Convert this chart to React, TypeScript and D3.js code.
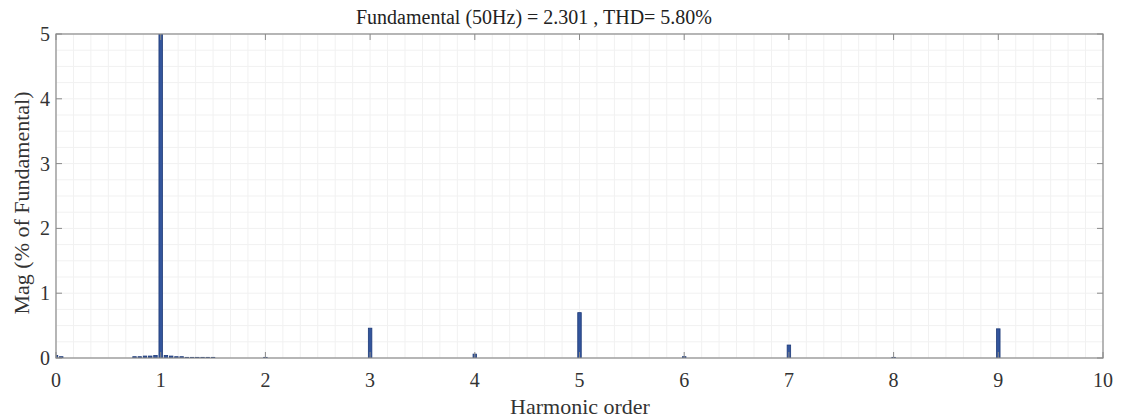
import React from "react";
import * as d3 from "d3";

const orders = [0, 0.05, 0.75, 0.8, 0.85, 0.9, 0.95, 1, 1.05, 1.1, 1.15, 1.2, 1.25, 1.3, 1.35, 1.4, 1.45, 1.5, 2, 3, 4, 5, 6, 7, 8, 9];
const mags = [0.04, 0.02, 0.02, 0.02, 0.03, 0.03, 0.04, 100, 0.04, 0.03, 0.02, 0.02, 0.01, 0.01, 0.01, 0.01, 0.01, 0.01, 0.01, 0.46, 0.06, 0.70, 0.02, 0.20, 0.01, 0.45];
const xTicks = [0, 1, 2, 3, 4, 5, 6, 7, 8, 9, 10];
const yTicks = [0, 1, 2, 3, 4, 5];
const title = "Fundamental (50Hz) = 2.301 , THD= 5.80%";
const xLabel = "Harmonic order";
const yLabel = "Mag (% of Fundamental)";

export default function App() {
  const W = 1124, H = 419;
  const L = 56, R = 1103, T = 34, B = 358;
  const x = d3.scaleLinear().domain([0, 10]).range([L, R]);
  const y = d3.scaleLinear().domain([0, 5]).range([B, T]);
  const minorX = d3.range(0, 10.0001, 1 / 6);
  const minorY = d3.range(0, 5.0001, 0.25);
  const font = "'Liberation Serif', 'Times New Roman', serif";
  const axisCol = "#8a8a8a";
  const barW = 3.5;
  return (
    <svg width={W} height={H} style={{ position: "absolute", left: 0, top: 0, background: "#fff" }}>
      <defs>
        <clipPath id="plot"><rect x={L} y={T} width={R - L} height={B - T} /></clipPath>
      </defs>
      <rect x={0} y={0} width={W} height={H} fill="#fff" />
      {minorX.map((v, i) => (
        <line key={"gx" + i} x1={x(v)} x2={x(v)} y1={T} y2={B} stroke="#f1f1f1" strokeWidth={1} />
      ))}
      {minorY.map((v, i) => (
        <line key={"gy" + i} x1={L} x2={R} y1={y(v)} y2={y(v)} stroke="#f1f1f1" strokeWidth={1} />
      ))}
      <g clipPath="url(#plot)">
        {orders.map((o, i) => (
          <rect key={"b" + i} x={x(o) - barW / 2} width={barW} y={y(Math.min(mags[i], 6))} height={B - y(Math.min(mags[i], 6))}
            fill="#33559c" stroke="#1d3a78" strokeWidth={0.8} />
        ))}
      </g>
      <rect x={L} y={T} width={R - L} height={B - T} fill="none" stroke={axisCol} strokeWidth={1.2} />
      {xTicks.map((t) => (
        <g key={"xt" + t}>
          <line x1={x(t)} x2={x(t)} y1={B} y2={B - 6} stroke={axisCol} />
          <line x1={x(t)} x2={x(t)} y1={T} y2={T + 6} stroke={axisCol} />
          <text x={x(t)} y={387} textAnchor="middle" fontFamily={font} fontSize={20} fill="#333">{t}</text>
        </g>
      ))}
      {yTicks.map((t) => (
        <g key={"yt" + t}>
          <line x1={L} x2={L + 6} y1={y(t)} y2={y(t)} stroke={axisCol} />
          <line x1={R} x2={R - 6} y1={y(t)} y2={y(t)} stroke={axisCol} />
          <text x={50} y={y(t) + 7} textAnchor="end" fontFamily={font} fontSize={20} fill="#333">{t}</text>
        </g>
      ))}
      <text x={534} y={24} textAnchor="middle" fontFamily={font} fontSize={20} fill="#222">{title}</text>
      <text x={580} y={414} textAnchor="middle" fontFamily={font} fontSize={22} fill="#333">{xLabel}</text>
      <text transform={`translate(29,203) rotate(-90)`} textAnchor="middle" fontFamily={font} fontSize={22} fill="#333">{yLabel}</text>
    </svg>
  );
}
